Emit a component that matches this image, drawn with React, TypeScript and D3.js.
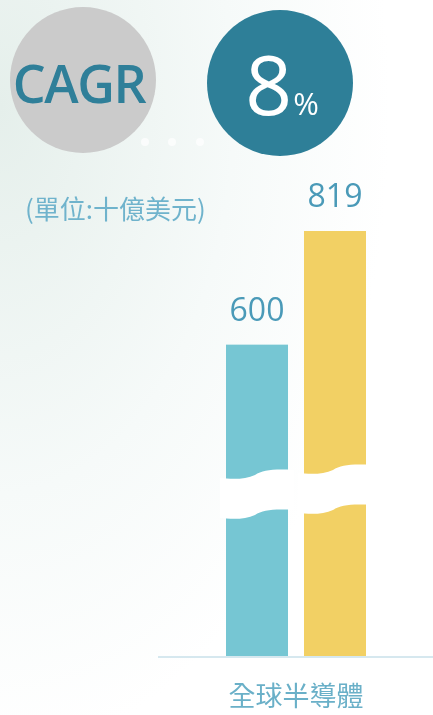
import React from "react";
import * as d3 from "d3";

const width = 433;
const height = 715;

// data
const category = "全球半導體";
const seriesKeys = ["base", "forecast"];
const seriesValues = [600, 819];
const seriesColors = ["#76c6d3", "#f2d064"];
const unitLabel = "(單位:十億美元)";
const cagrLabel = "CAGR";
const cagrValue = "8";
const breakValue = 320;

const baseY = 656;
const cjk = "'Noto Sans CJK TC', 'Noto Sans', sans-serif";
const latin = "'Open Sans', 'Noto Sans', sans-serif";

const App = () => {
  const xScale = d3
    .scaleBand<string>()
    .domain(seriesKeys)
    .range([226, 366])
    .paddingInner(0.205);

  // linear from zero, the break is only a decoration
  const yScale = d3
    .scaleLinear()
    .domain([0, d3.max(seriesValues) as number])
    .range([baseY, 231]);

  const bw = xScale.bandwidth();
  const catX = (xScale(seriesKeys[0])! + xScale(seriesKeys[1])! + bw) / 2;

  // white wavy band across each bar
  const breakPath = (x0: number, w: number, t: number) => {
    const b = t + 40;
    const l = x0 - 6;
    const r = x0 + w + 6;
    const m = x0 + w * 0.5;
    return (
      `M${l},${t + 8} C${l + 10},${t + 9} ${m - 12},${t + 10} ${m - 2},${t + 5}` +
      ` C${m + 6},${t} ${m + 16},${t - 1} ${r},${t}` +
      ` L${r},${b}` +
      ` C${m + 16},${b - 1} ${m + 6},${b} ${m - 2},${b + 5}` +
      ` C${m - 12},${b + 10} ${l + 10},${b + 9} ${l},${b + 8} Z`
    );
  };

  return (
    <svg
      width={width}
      height={height}
      style={{ position: "fixed", left: 0, top: 0, display: "block" }}
    >
      <defs>
        <radialGradient id="bg" cx="0" cy="0.15" r="0.9">
          <stop offset="0" stopColor="#e5efeb" />
          <stop offset="0.6" stopColor="#f6faf9" />
          <stop offset="1" stopColor="#ffffff" />
        </radialGradient>
      </defs>
      <rect width={width} height={height} fill="url(#bg)" />

      {/* CAGR badges */}
      <circle cx={83} cy={80} r={73} fill="#cbcbcb" />
      <text
        x={79}
        y={103}
        textAnchor="middle"
        fontFamily={latin}
        fontWeight={600}
        fontSize={52}
        fill="#2f7f99"
        letterSpacing={-1.5}
      >
        {cagrLabel}
      </text>
      <circle cx={280} cy={83} r={73} fill="#2e7f98" />
      <text x={282} y={115} textAnchor="middle" fill="#fff" fontFamily={latin} fontWeight={500}>
        <tspan fontSize={82}>{cagrValue}</tspan>
        <tspan fontSize={31} dx={1}>%</tspan>
      </text>
      {[145, 172, 200].map((cx) => (
        <circle key={cx} cx={cx} cy={142} r={4} fill="#fff" opacity={0.7} />
      ))}

      <text x={25} y={219} fontFamily={cjk} fontSize={26} fill="#6fb3cc">
        {unitLabel}
      </text>

      {/* bars */}
      {seriesKeys.map((k, i) => {
        const x = xScale(k)!;
        const y = yScale(seriesValues[i]);
        return (
          <g key={k}>
            <rect x={x} y={y} width={bw} height={baseY - y} fill={seriesColors[i]} />
            <text
              x={x + bw / 2}
              y={y - 24}
              textAnchor="middle"
              fontFamily={latin}
              fontSize={32}
              fill="#4a9ab8"
            >
              {seriesValues[i]}
            </text>
            <path d={breakPath(x, bw, yScale(breakValue) - 20 - i * 5)} fill="#fff" />
          </g>
        );
      })}

      <line x1={158} x2={width} y1={baseY + 1} y2={baseY + 1} stroke="#d6e8ef" strokeWidth={2} />
      <text
        x={catX}
        y={706}
        textAnchor="middle"
        fontFamily={cjk}
        fontSize={27}
        fill="#6ab0c8"
      >
        {category}
      </text>
    </svg>
  );
};

export default App;
